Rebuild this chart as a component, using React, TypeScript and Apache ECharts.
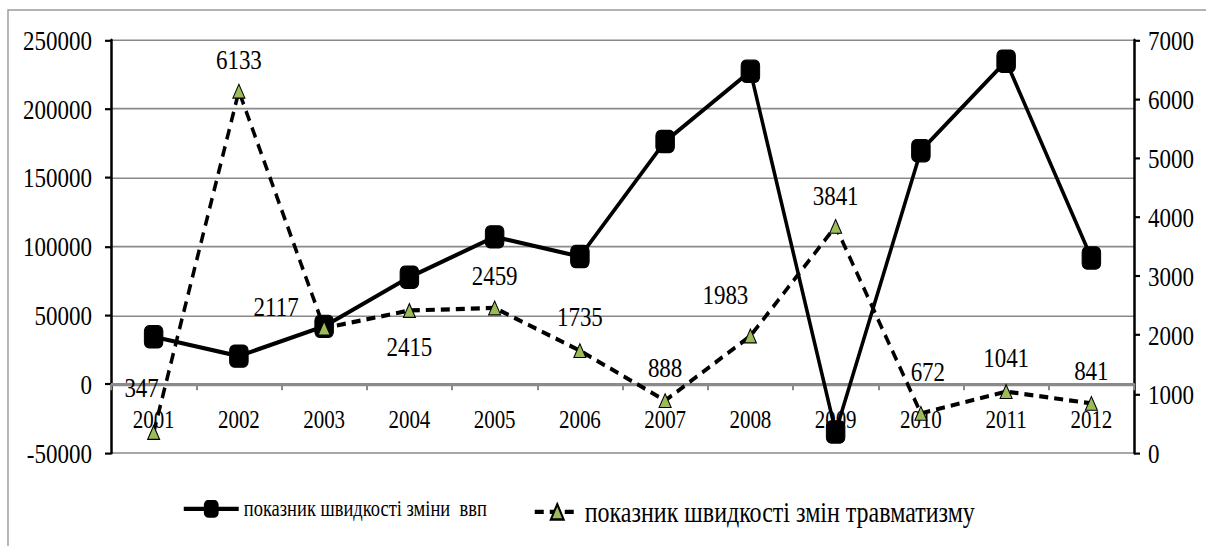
import React, { useEffect, useRef } from "react";
import * as echarts from "echarts";

const years = ["2001", "2002", "2003", "2004", "2005", "2006", "2007", "2008", "2009", "2010", "2011", "2012"];
const gdpRate = [34400, 20400, 42000, 77700, 107000, 92700, 176300, 227300, -34700, 169600, 234600, 91700];
const injuryRate = [347, 6133, 2117, 2415, 2459, 1735, 888, 1983, 3841, 672, 1041, 841];
const leftTicks = { min: -50000, max: 250000, interval: 50000 };
const rightTicks = { min: 0, max: 7000, interval: 1000 };
const seriesNames = ["показник швидкості зміни  ввп", "показник швидкості змін травматизму"];

// the reference picture is drawn with a vertical stretch; render at 1/SY height and stretch back
const SY = 1.2;
const W = 1206;
const H = 546 / SY;

// label offsets (px, in final picture) relative to each triangle marker
const labelOffsets: [number, number][] = [
  [-12, -45], [0, -32], [-48, -22], [0, 36], [0, -33], [0, -34],
  [0, -33], [-25, -42], [0, -31], [7, -42], [0, -34], [0, -33],
];

const FONT = "Liberation Serif";

export default function App() {
  const ref = useRef<HTMLDivElement>(null);
  useEffect(() => {
    if (!ref.current) return;
    const chart = echarts.init(ref.current, null, { renderer: "svg" });
    const legendCommon = {
      top: 409.5,
      itemHeight: 16,
      itemGap: 5,
      lineStyle: { width: 3.5 },
    };
    chart.setOption({
      animation: false,
      backgroundColor: "#ffffff",
      textStyle: { fontFamily: FONT, color: "#000" },
      graphic: [
        {
          type: "rect",
          shape: { x: 8, y: 10 / SY, width: 1200, height: 560 },
          style: { fill: "none", stroke: "#9a9a9a", lineWidth: 1.4 },
          silent: true,
        },
      ],
      grid: { left: 111, right: 72, top: 40 / SY, bottom: 93 / SY, containLabel: false },
      legend: [
        {
          ...legendCommon,
          left: 177,
          itemWidth: 55,
          textStyle: { fontFamily: FONT, fontSize: 18.5, color: "#000" },
          data: [{ name: seriesNames[0] }],
        },
        {
          ...legendCommon,
          left: 528,
          itemWidth: 45,
          textStyle: { fontFamily: FONT, fontSize: 24, color: "#000" },
          data: [{ name: seriesNames[1] }],
        },
      ],
      xAxis: {
        type: "category",
        data: years,
        boundaryGap: true,
        axisLine: { onZero: true, lineStyle: { color: "#8a8a8a", width: 2.6 } },
        axisTick: { show: true, inside: false, length: 5, lineStyle: { color: "#8a8a8a", width: 2 } },
        axisLabel: { fontFamily: FONT, fontSize: 21, color: "#000", margin: -38.8 },
        splitLine: { show: false },
      },
      yAxis: [
        {
          type: "value",
          ...leftTicks,
          position: "left",
          axisLine: { show: true, lineStyle: { color: "#000", width: 2.5 } },
          axisTick: { show: true, length: 6, lineStyle: { color: "#000", width: 1.8 } },
          axisLabel: {
            fontFamily: FONT,
            fontSize: 23,
            color: "#000",
            margin: 19,
            formatter: (v: number) => String(v),
          },
          splitLine: { show: true, lineStyle: { color: "#8a8a8a", width: 1.3 } },
        },
        {
          type: "value",
          ...rightTicks,
          position: "right",
          axisLine: { show: true, lineStyle: { color: "#000", width: 2.5 } },
          axisTick: { show: true, length: 6, lineStyle: { color: "#000", width: 1.8 } },
          axisLabel: {
            fontFamily: FONT,
            fontSize: 23,
            color: "#000",
            margin: 14,
            formatter: (v: number) => String(v),
          },
          splitLine: { show: false },
        },
      ],
      series: [
        {
          name: seriesNames[0],
          type: "line",
          yAxisIndex: 0,
          data: gdpRate,
          symbol: "roundRect",
          symbolSize: [18.5, 18.5],
          lineStyle: { color: "#000", width: 3.5 },
          itemStyle: { color: "#000", borderColor: "#000", borderWidth: 1 },
          z: 2,
        },
        {
          name: seriesNames[1],
          type: "line",
          yAxisIndex: 1,
          data: injuryRate.map((v, i) => ({
            value: v,
            label: { offset: [labelOffsets[i][0], labelOffsets[i][1] / SY] },
          })),
          symbol: "triangle",
          symbolSize: [12, 11.5],
          lineStyle: { color: "#000", width: 3.5, type: [9, 6] },
          itemStyle: { color: "#9bbb59", borderColor: "#000", borderWidth: 1 },
          label: {
            show: true,
            position: "inside",
            fontFamily: FONT,
            fontSize: 23,
            color: "#000",
          },
          z: 3,
        },
      ],
    });
    return () => chart.dispose();
  }, []);
  return (
    <div
      ref={ref}
      style={{
        position: "fixed",
        left: 0,
        top: 0,
        width: W,
        height: H,
        transform: `scaleY(${SY})`,
        transformOrigin: "0 0",
      }}
    />
  );
}
